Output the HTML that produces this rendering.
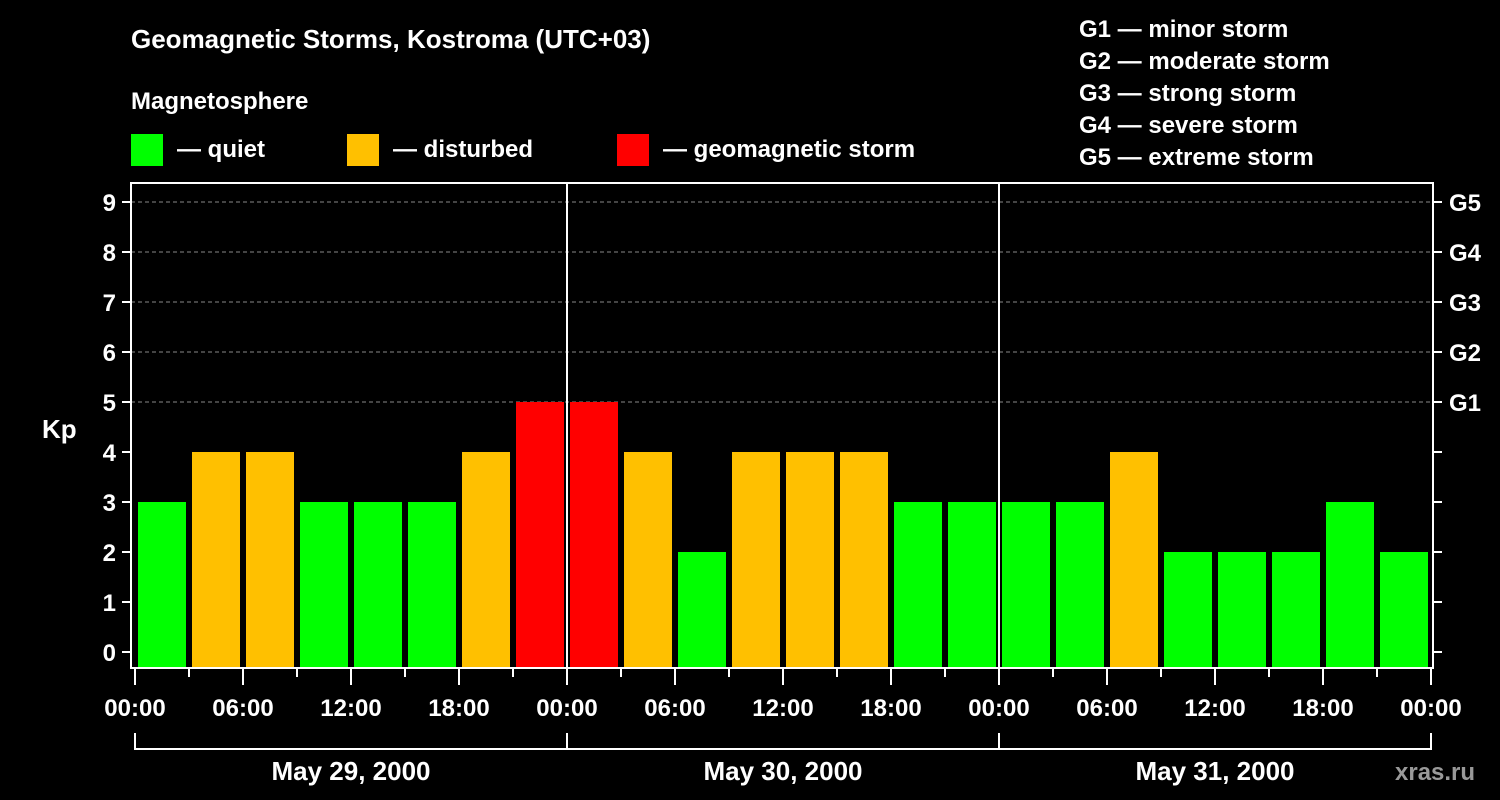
<!DOCTYPE html>
<html><head><meta charset="utf-8"><style>
body{margin:0;background:#000;}
svg{display:block;font-family:"Liberation Sans",sans-serif;font-weight:bold;fill:#fff;}
</style></head><body>
<svg id="c" width="1500" height="800" viewBox="0 0 1500 800">
<text x="131" y="48" font-size="26">Geomagnetic Storms, Kostroma (UTC+03)</text>
<text x="131" y="109" font-size="24">Magnetosphere</text>
<g><rect x="131" y="134" width="32" height="32" fill="#00ff00"/><text x="177" y="157" font-size="24">— quiet</text></g>
<g><rect x="347" y="134" width="32" height="32" fill="#ffc000"/><text x="393" y="157" font-size="24">— disturbed</text></g>
<g><rect x="617" y="134" width="32" height="32" fill="#ff0000"/><text x="663" y="157" font-size="24">— geomagnetic storm</text></g>
<g font-size="24">
<text x="1079" y="37">G1 — minor storm</text><text x="1079" y="69">G2 — moderate storm</text><text x="1079" y="101">G3 — strong storm</text><text x="1079" y="133">G4 — severe storm</text><text x="1079" y="165">G5 — extreme storm</text></g>
<text x="42" y="438" font-size="26">Kp</text>
<text x="1395" y="780" font-size="24" fill="#999" style="fill:#999">xras.ru</text>
<g id="grid"></g><g id="bars"></g><g id="axes"></g>
</svg>
<script>
const kpValues=[3,4,4,3,3,3,4,5, 5,4,2,4,4,4,3,3, 3,3,4,2,2,2,3,2];
const yTicks=[0,1,2,3,4,5,6,7,8,9];
const gLabels=["G1","G2","G3","G4","G5"];
const timeLabels=["00:00","06:00","12:00","18:00"];
const dayLabels=["May 29, 2000","May 30, 2000","May 31, 2000"];
const NS="http://www.w3.org/2000/svg";
const X0=135,DAYW=432,SLOT=54;
const y=v=>652-v*50;
const x=h=>X0+h*SLOT/3;
function mk(tag,attrs,parent){const e=document.createElementNS(NS,tag);for(const k in attrs)e.setAttribute(k,attrs[k]);parent.appendChild(e);return e;}
const grid=document.getElementById('grid'),bars=document.getElementById('bars'),axes=document.getElementById('axes');
yTicks.forEach(v=>{
 if(v>=5){const l=mk('line',{x1:131,x2:1433,y1:y(v),y2:y(v),stroke:'#888','stroke-dasharray':'4,3','stroke-width':1},grid);
 
 }
 const t=mk('line',{x1:122,x2:131,y1:y(v),y2:y(v),stroke:'#fff','stroke-width':2},axes);
 
 
 const t2=mk('line',{x1:1433,x2:1442,y1:y(v),y2:y(v),stroke:'#fff','stroke-width':2},axes);
 
 
 const tx=mk('text',{x:116,y:y(v)+9,'font-size':24,'text-anchor':'end'},axes);tx.textContent=v;
 
 
});
gLabels.forEach((g,i)=>{const tx=mk('text',{x:1449,y:y(5+i)+9,'font-size':24},axes);tx.textContent=g;
 
 });
kpValues.forEach((v,i)=>{
 const c=v>=5?'#ff0000':(v>=4?'#ffc000':'#00ff00');
 const r=mk('rect',{x:x(i*3)+3,y:y(v),width:SLOT-6,height:668-y(v),fill:c},bars);
 
 
});
const fr=mk('rect',{x:131,y:183,width:1302,height:485,fill:'none',stroke:'#fff','stroke-width':2},axes);


for(let d=1;d<3;d++){const l=mk('line',{x1:x(d*24),x2:x(d*24),y1:183,y2:668,stroke:'#fff','stroke-width':2},axes);
 
 }
for(let h=0;h<=72;h+=3){
 const major=h%6===0;
 const t=mk('line',{x1:x(h),x2:x(h),y1:668,y2:major?685:677,stroke:'#fff','stroke-width':2},axes);
 
 
 if(major){const tx=mk('text',{x:x(h),y:716,'font-size':24,'text-anchor':'middle'},axes);tx.textContent=timeLabels[(h%24)/6];
 
 }
}
const br=mk('path',{d:`M${x(0)} 733V749H${x(72)}V733`,fill:'none',stroke:'#fff','stroke-width':2},axes);


for(let d=1;d<3;d++){const l=mk('line',{x1:x(d*24),x2:x(d*24),y1:733,y2:749,stroke:'#fff','stroke-width':2},axes);
 
 }
dayLabels.forEach((s,d)=>{const tx=mk('text',{x:x(d*24+12),y:780,'font-size':26,'text-anchor':'middle'},axes);tx.textContent=s;
 
 });
</script>
</body></html>
